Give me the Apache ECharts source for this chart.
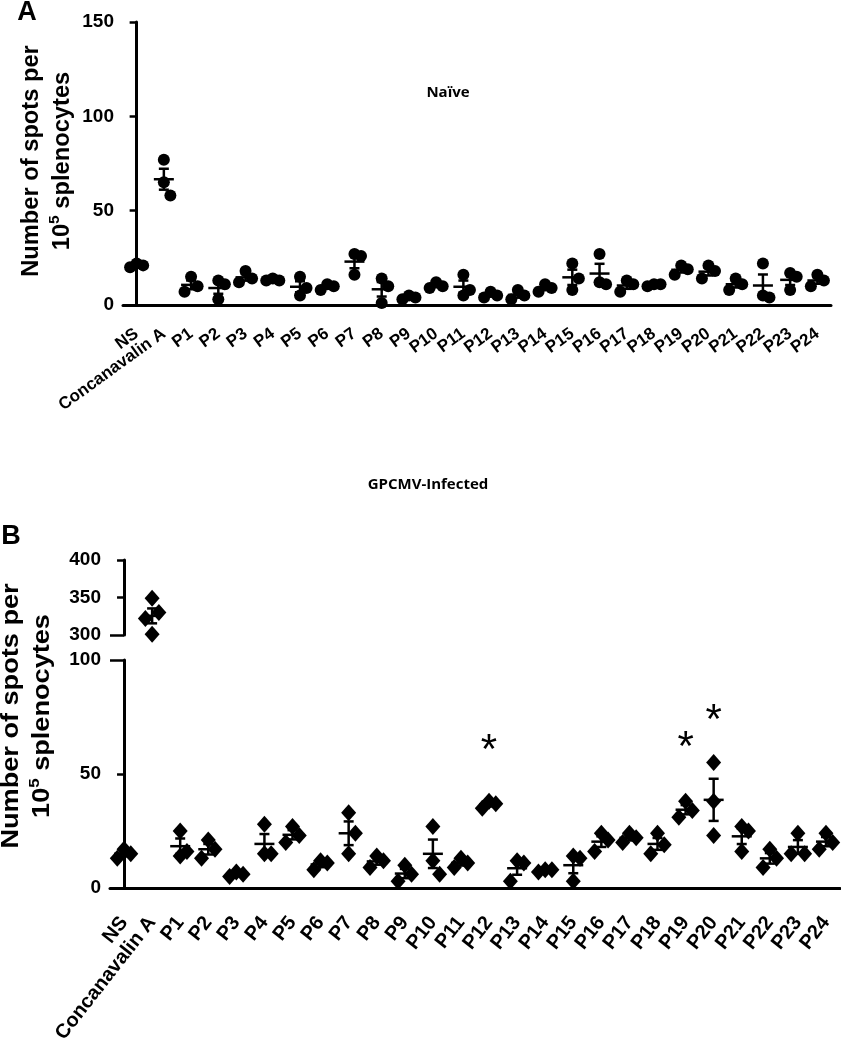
<!DOCTYPE html>
<html><head><meta charset="utf-8">
<script src="https://cdn.jsdelivr.net/npm/echarts@6/dist/echarts.min.js"></script>
<style>html,body{margin:0;padding:0;background:#fff}#c{width:841px;height:1050px}</style>
</head><body><div id="c"></div>
<script>
const categories = ['NS','Concanavalin A','P1','P2','P3','P4','P5','P6','P7','P8','P9','P10','P11','P12','P13','P14','P15','P16','P17','P18','P19','P20','P21','P22','P23','P24'];

// Panel A: Naïve (spots per 10^5 splenocytes), one array per category
const naiveSpots = [
  [22, 21, 20],   // NS
  [77, 65, 58],   // Concanavalin A
  [15, 10, 7],    // P1
  [13, 11, 3],    // P2
  [18, 14, 12],   // P3
  [14, 13, 13],   // P4
  [15, 9, 5],     // P5
  [11, 10, 8],    // P6
  [27, 26, 16],   // P7
  [14, 10, 1],    // P8
  [5, 4, 3],      // P9
  [12, 10, 9],    // P10
  [16, 8, 5],     // P11
  [7, 5, 4],      // P12
  [8, 5, 3],      // P13
  [11, 9, 7],     // P14
  [22, 14, 8],    // P15
  [27, 12, 11],   // P16
  [13, 11, 7],    // P17
  [11, 11, 10],   // P18
  [21, 19, 16],   // P19
  [21, 18, 14],   // P20
  [14, 11, 8],    // P21
  [22, 5, 4],     // P22
  [17, 15, 8],    // P23
  [16, 13, 10]    // P24
];

// Panel B: GPCMV-Infected
const infectedSpots = [
  [17, 15, 13],         // NS
  [349, 330, 322, 301], // Concanavalin A
  [25, 16, 14],         // P1
  [21, 17, 13],         // P2
  [7, 6, 5],            // P3
  [28, 15, 15],         // P4
  [27, 23, 20],         // P5
  [12, 11, 8],          // P6
  [33, 24, 15],         // P7
  [14, 12, 9],          // P8
  [10, 6, 3],           // P9
  [27, 12, 6],          // P10
  [13, 11, 9],          // P11
  [38, 37, 35],         // P12
  [12, 11, 3],          // P13
  [8, 8, 7],            // P14
  [14, 13, 3],          // P15
  [24, 21, 16],         // P16
  [24, 22, 20],         // P17
  [24, 19, 15],         // P18
  [38, 34, 31],         // P19
  [55, 38, 23],         // P20
  [27, 25, 16],         // P21
  [17, 13, 9],          // P22
  [24, 15, 15],         // P23
  [24, 20, 17]          // P24
];

// significance markers (*) above groups, value = height of the asterisk
const starCategories = ['P12', 'P19', 'P20'];
const starValues = [60, 61, 73];

const yTicksA = [0, 50, 100, 150];
const yTicksBLow = [0, 50, 100];
const yTicksBHigh = [300, 350, 400];
const breakLow = 100, breakHigh = 300;

// ---------- helpers ----------
function stats(arr) {
  const n = arr.length;
  const m = arr.reduce((a, b) => a + b, 0) / n;
  const sd = Math.sqrt(arr.reduce((a, b) => a + (b - m) * (b - m), 0) / (n - 1));
  return [m, sd / Math.sqrt(n)];
}
// GraphPad-like column scatter: spread points that would overlap
function spread(values, unitsPerPx, symPx, step) {
  const order = values.map((v, i) => i).sort((a, b) => values[b] - values[a]);
  const placed = [], offs = new Array(values.length);
  const thr = symPx * 1.4 * unitsPerPx;
  order.forEach(i => {
    for (const c of [0, 1, -1, 2, -2, 3, -3]) {
      if (!placed.some(p => p.c === c && Math.abs(p.v - values[i]) < thr)) {
        offs[i] = c * step; placed.push({ c, v: values[i] }); break;
      }
    }
  });
  return offs;
}
function pointsFor(groups, filter, unitsPerPx, symPx) {
  const out = [];
  groups.forEach((g, ci) => {
    const vals = g.filter(filter);
    if (!vals.length) return;
    const offs = spread(vals, unitsPerPx, symPx, 0.24);
    vals.forEach((v, k) => out.push([ci + offs[k], v]));
  });
  return out;
}
function errFor(groups, filter) {
  const out = [];
  groups.forEach((g, ci) => {
    if (!g.every(filter)) return;
    const [m, se] = stats(g);
    out.push([ci, m, m - se, m + se]);
  });
  return out;
}
function renderErr(params, api) {
  const x = api.value(0), m = api.value(1), lo = api.value(2), hi = api.value(3);
  const pm = api.coord([x, m]), pl = api.coord([x, lo]), ph = api.coord([x, hi]);
  const st = { stroke: '#000', lineWidth: 2.5 };
  return { type: 'group', children: [
    { type: 'line', shape: { x1: pm[0] - 10, y1: pm[1], x2: pm[0] + 10, y2: pm[1] }, style: st },
    { type: 'line', shape: { x1: pl[0], y1: pl[1], x2: ph[0], y2: ph[1] }, style: st },
    { type: 'line', shape: { x1: ph[0] - 5, y1: ph[1], x2: ph[0] + 5, y2: ph[1] }, style: st },
    { type: 'line', shape: { x1: pl[0] - 5, y1: pl[1], x2: pl[0] + 5, y2: pl[1] }, style: st }
  ]};
}
function renderStar(params, api) {
  const p = api.coord([api.value(0), api.value(1)]);
  return { type: 'text', x: p[0], y: p[1],
    style: { text: '*', font: '42px "Liberation Sans", Arial, sans-serif', fill: '#000', textAlign: 'center', textVerticalAlign: 'middle' } };
}

const FONT = '"Liberation Sans", Arial, sans-serif';
const axisLineStyle = { color: '#000', width: 3 };
const tickStyle = { color: '#000', width: 2.5 };
const yLabel = { color: '#000', fontFamily: 'Liberation Sans', fontWeight: 'bold', fontSize: 19, margin: 9 };

function catAxis(grid, rot, margin, fs) {
  return { type: 'category', gridIndex: grid, data: categories, boundaryGap: true,
    axisLine: { lineStyle: axisLineStyle }, axisTick: { alignWithLabel: true, length: 8, lineStyle: tickStyle },
    axisLabel: { rotate: rot, interval: 0, margin: margin, color: '#000', fontFamily: 'Liberation Sans', fontWeight: 'bold', fontSize: fs } };
}
function posAxis(grid) {
  return { type: 'value', gridIndex: grid, min: -0.5, max: categories.length - 0.5, show: false };
}
function valAxis(grid, ticks) {
  return { type: 'value', gridIndex: grid, position: 'left', min: ticks[0], max: ticks[ticks.length - 1],
    interval: ticks[1] - ticks[0], splitLine: { show: false },
    axisLine: { show: true, lineStyle: axisLineStyle },
    axisTick: { show: true, length: 7, lineStyle: tickStyle }, axisLabel: yLabel };
}
function breakAxis(grid, ticks, v) {
  return { type: 'value', gridIndex: grid, position: 'left', min: ticks[0], max: ticks[ticks.length - 1],
    splitLine: { show: false }, axisLine: { show: false }, axisLabel: { show: false },
    axisTick: { show: true, inside: true, length: 8, customValues: [v], lineStyle: tickStyle } };
}

const pxA = 283, pxBH = 75, pxBL = 228;
const isLow = v => v <= breakLow, isHigh = v => v >= breakHigh;
const dot = { color: '#000', opacity: 1 };

const option = {
  animation: false,
  backgroundColor: '#fff',
  grid: [
    { left: 123, right: 10, top: 22, height: pxA, outerBoundsMode: 'none' },
    { left: 110, right: 1, top: 560, height: pxBH, outerBoundsMode: 'none' },
    { left: 110, right: 1, top: 660, height: pxBL, outerBoundsMode: 'none' }
  ],
  xAxis: [ catAxis(0, 36, 27, 17), posAxis(0), posAxis(1), catAxis(2, 52, 31, 20), posAxis(2) ],
  yAxis: [
    valAxis(0, yTicksA),
    valAxis(1, yTicksBHigh), breakAxis(1, yTicksBHigh, breakHigh),
    valAxis(2, yTicksBLow), breakAxis(2, yTicksBLow, breakLow)
  ],
  series: [
    { type: 'scatter', xAxisIndex: 1, yAxisIndex: 0, symbol: 'circle', symbolSize: 12,
      itemStyle: dot, data: pointsFor(naiveSpots, () => true, 150 / pxA, 12) },
    { type: 'custom', xAxisIndex: 1, yAxisIndex: 0, renderItem: renderErr, encode: { x: 0, y: [1, 2, 3] },
      data: errFor(naiveSpots, () => true), z: 5 },
    { type: 'scatter', xAxisIndex: 2, yAxisIndex: 1, symbol: 'diamond', symbolSize: [15, 17],
      itemStyle: dot, data: pointsFor(infectedSpots, isHigh, 100 / pxBH, 15) },
    { type: 'custom', xAxisIndex: 2, yAxisIndex: 1, renderItem: renderErr, encode: { x: 0, y: [1, 2, 3] },
      data: errFor(infectedSpots, isHigh), z: 5 },
    { type: 'scatter', xAxisIndex: 4, yAxisIndex: 3, symbol: 'diamond', symbolSize: [15, 17],
      itemStyle: dot, data: pointsFor(infectedSpots, isLow, 100 / pxBL, 15) },
    { type: 'custom', xAxisIndex: 4, yAxisIndex: 3, renderItem: renderErr, encode: { x: 0, y: [1, 2, 3] },
      data: errFor(infectedSpots, isLow), z: 5 },
    { type: 'custom', xAxisIndex: 4, yAxisIndex: 3, renderItem: renderStar, encode: { x: 0, y: 1 }, z: 6,
      data: starCategories.map((c, i) => [categories.indexOf(c), starValues[i]]) }
  ],
  graphic: [
    { type: 'text', x: 27, y: 13, style: { text: 'A', font: 'bold 27px ' + FONT, fill: '#000', textAlign: 'center', textVerticalAlign: 'middle' } },
    { type: 'text', x: 11, y: 537, style: { text: 'B', font: 'bold 27px ' + FONT, fill: '#000', textAlign: 'center', textVerticalAlign: 'middle' } },
    { type: 'text', x: 448, y: 93, style: { text: 'Naïve', font: 'bold 15px "Open Sans", sans-serif', fill: '#000', textAlign: 'center', textVerticalAlign: 'middle' } },
    { type: 'text', x: 428, y: 485, style: { text: 'GPCMV-Infected', font: 'bold 15px "Open Sans", sans-serif', fill: '#000', textAlign: 'center', textVerticalAlign: 'middle' } },
    { type: 'text', x: 47, y: 161, rotation: Math.PI / 2, scaleX: 1.03,
      style: { text: 'Number of spots per\n10{sup|5} splenocytes', font: 'bold 23px ' + FONT, fill: '#000', lineHeight: 31,
        textAlign: 'center', textVerticalAlign: 'middle',
        rich: { sup: { fontSize: 15, fontWeight: 'bold', fontFamily: 'Liberation Sans', verticalAlign: 'top', padding: [0, 0, 12, 0] } } } },
    { type: 'text', x: 27, y: 716, rotation: Math.PI / 2, scaleX: 1.13,
      style: { text: 'Number of spots per\n10{sup|5} splenocytes', font: 'bold 24px ' + FONT, fill: '#000', lineHeight: 31,
        textAlign: 'center', textVerticalAlign: 'middle',
        rich: { sup: { fontSize: 15, fontWeight: 'bold', fontFamily: 'Liberation Sans', verticalAlign: 'top', padding: [0, 0, 12, 0] } } } }
  ]
};
const chart = echarts.init(document.getElementById('c'), null, { renderer: 'canvas' });
chart.setOption(option);
</script></body></html>
